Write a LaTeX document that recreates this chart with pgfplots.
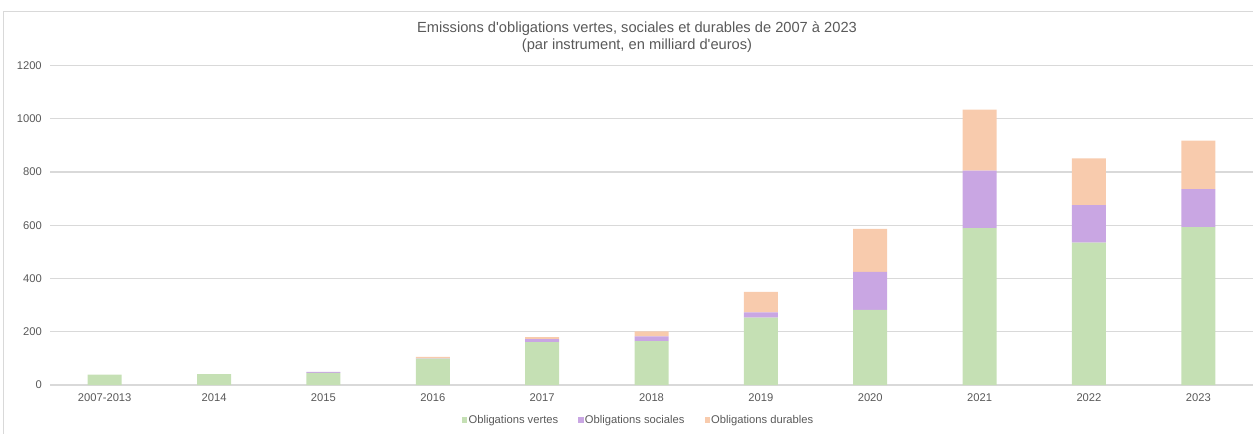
\documentclass[border=0pt]{standalone}
\usepackage{pgfplots}
\pgfplotsset{compat=1.18}
\usepackage{pgfplotstable}
\usepackage{fontspec}
\setmainfont{Liberation Sans}

\definecolor{vert}{HTML}{C5E0B4}
\definecolor{social}{HTML}{C9A6E3}
\definecolor{durable}{HTML}{F8CBAD}
\definecolor{grille}{HTML}{D9D9D9}
\definecolor{texte}{HTML}{595959}

% Emissions par instrument, en milliard d'euros
\pgfplotstableread{
x vertes sociales durables
0  39   0   0
1  41   0   0
2  46   3   0
3  99   1   6
4 161  11   8
5 165  18  18
6 253  20  77
7 282 143 161
8 589 216 229
9 535 141 175
10 593 143 182
}\emissions

\def\px{0.75pt}

\begin{document}
\begin{tikzpicture}
\path[use as bounding box] (0,0) rectangle (1253*\px,433*\px);
\draw[grille] (3*\px,-10*\px) rectangle (1270*\px,422*\px);
\node[align=center, text=texte, font=\fontsize{11}{12.75}\selectfont]
  at (637*\px,396*\px) {Emissions d\textquotesingle obligations vertes, sociales et durables de 2007 à 2023\\(par instrument, en milliard d\textquotesingle euros)};
\begin{axis}[
  at={(50*\px,48*\px)}, anchor=south west,
  scale only axis,
  width=1203*\px, height=319.5*\px,
  ybar stacked, bar width=34*\px,
  xmin=-0.5, xmax=10.5, ymin=0, ymax=1200,
  xtick=data,
  xticklabels={2007-2013,2014,2015,2016,2017,2018,2019,2020,2021,2022,2023},
  ytick={0,200,...,1200},
  major tick length=0pt,
  axis line style={draw=none},
  ymajorgrids, major grid style={grille, line width=0.9pt},
  tick label style={text=texte, font=\fontsize{8.4}{10}\selectfont},
  /pgf/number format/assume math mode=true,
  /pgf/number format/1000 sep={},
  yticklabel style={inner sep=0pt, xshift=-8*\px},
  xticklabel style={inner sep=0pt, yshift=-8*\px},
  legend style={at={(0.489,-0.11)}, anchor=center, draw=none, fill=none,
    legend columns=-1, text=texte, font=\fontsize{8.4}{10}\selectfont,
    /tikz/every even column/.append style={column sep=14pt},
    nodes={inner sep=1pt}},
  legend image code/.code={\fill[#1] (0pt,-2pt) rectangle (4pt,2pt);},
  every axis plot/.append style={draw=none},
]
\addplot[fill=vert] table[x=x, y=vertes] {\emissions};
\addplot[fill=social] table[x=x, y=sociales] {\emissions};
\addplot[fill=durable] table[x=x, y=durables] {\emissions};
\legend{Obligations vertes, Obligations sociales, Obligations durables}
\end{axis}
\end{tikzpicture}
\end{document}
